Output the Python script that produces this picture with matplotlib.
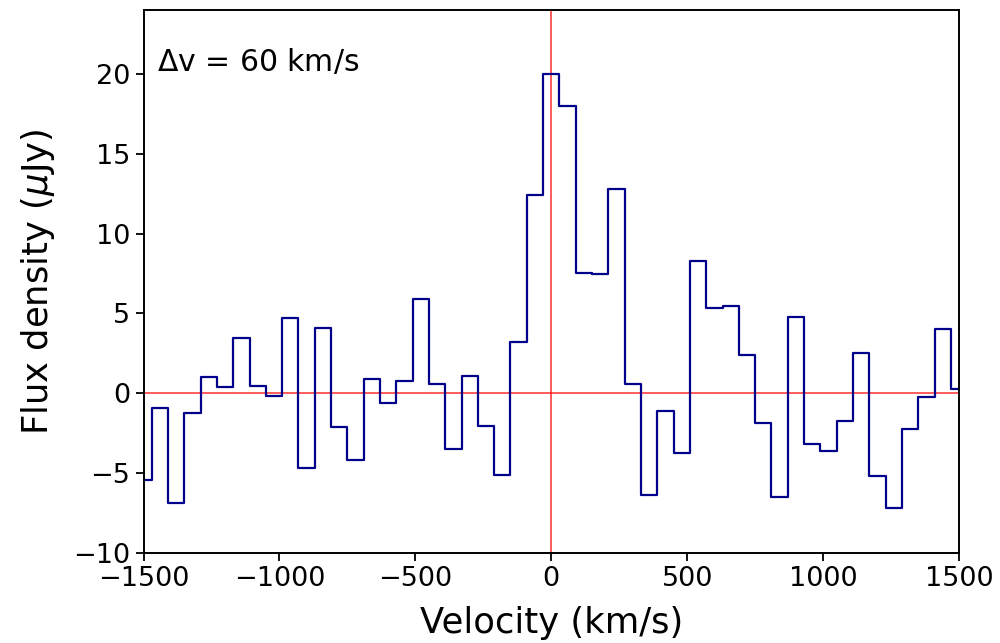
import numpy as np
import matplotlib
matplotlib.use("Agg")
import matplotlib.pyplot as plt

# channel centres (km/s), 60 km/s bins
velocity = np.arange(-1500, 1501, 60)

# flux density per channel (uJy)
flux = [-5.4, -0.95, -6.9, -1.25, 1.05, 0.4, 3.45, 0.45, -0.2, 4.7,
        -4.7, 4.1, -2.1, -4.2, 0.9, -0.6, 0.75, 5.9, 0.6, -3.5,
        1.1, -2.05, -5.1, 3.2, 12.4, 20.0, 18.0, 7.5, 7.45, 12.8,
        0.55, -6.4, -1.1, -3.75, 8.3, 5.35, 5.45, 2.4, -1.85, -6.5,
        4.8, -3.2, -3.6, -1.75, 2.5, -5.2, -7.2, -2.25, -0.25, 4.0,
        0.25]

xticks = [-1500, -1000, -500, 0, 500, 1000, 1500]
yticks = [-10, -5, 0, 5, 10, 15, 20]

fig = plt.figure(figsize=(10, 6.43), dpi=100)
ax = fig.add_axes([0.1435, 0.14, 0.8155, 0.8445])

ax.axhline(0, color='red', lw=1.2, alpha=0.75)
ax.axvline(0, color='red', lw=1.2, alpha=0.75)
ax.step(velocity, flux, where='mid', color='#00008B', lw=1.6)

ax.set_xlim(-1500, 1500)
ax.set_ylim(-10, 24)
ax.set_xticks(xticks)
ax.set_yticks(yticks)
ax.tick_params(labelsize=19.5, length=6, width=1.3)
for s in ax.spines.values():
    s.set_linewidth(1.4)

ax.set_xlabel('Velocity (km/s)', fontsize=25.5, labelpad=10)
ax.set_ylabel(r'Flux density ($\mu$Jy)', fontsize=25.5, labelpad=12)
ax.text(0.016, 0.905, r'$\Delta$v = 60 km/s', transform=ax.transAxes,
        fontsize=21.5, va='center', ha='left')

fig.savefig('out.png', dpi=100)
